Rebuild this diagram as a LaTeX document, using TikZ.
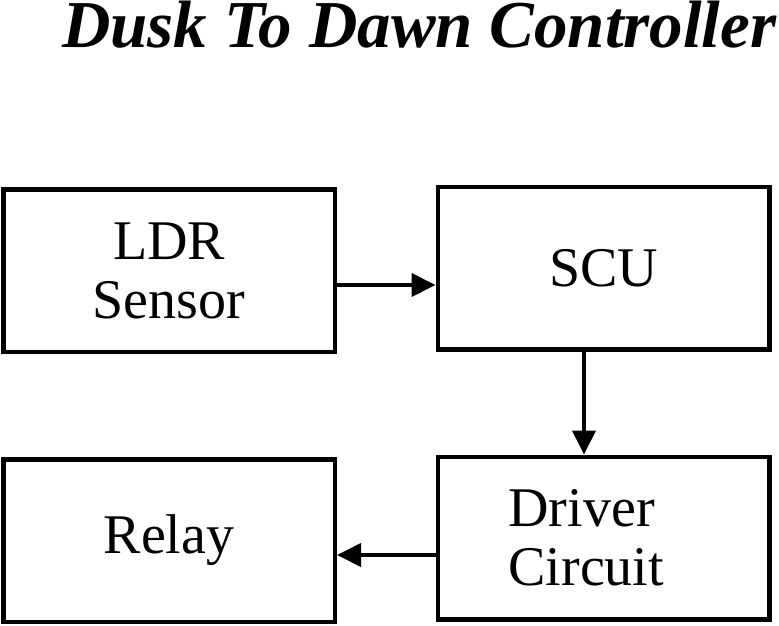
\documentclass[tikz,border=0pt]{standalone}
\usepackage{fontspec}
\setmainfont{Liberation Serif}
\usetikzlibrary{arrows.meta}

\tikzset{
	blockbox/.style={draw=black, line width=4.5pt, minimum width=331.5pt, minimum height=162.5pt, inner sep=0pt, align=center, font=\fontsize{56}{59}\selectfont},
	flowarrow/.style={-{Triangle[length=24pt,width=23pt]}, line width=4pt, draw=black},
}

\begin{document}
\begin{tikzpicture}[x=1pt,y=1pt,yscale=-1,xscale=1]
	\useasboundingbox (0,0) rectangle (779,626);

	%%TITLE---------------------------------------------
	\node (title) [anchor=base west, inner sep=0pt, font=\fontsize{67}{70}\selectfont\bfseries\itshape] at (62,48) {Dusk To Dawn Controller};

	%%BLOCKS---------------------------------------------
	%Top left
	\node (ldr) [blockbox] at (169,270.5) {LDR\\Sensor};
	%Top right
	\node (scu) [blockbox] at (603.5,268) {SCU};
	%Bottom right
	\node (driver) [blockbox, align=left, text width=190pt, inner xsep=70.75pt] at (603.5,538) {Driver\\Circuit};
	%Bottom left
	\node (relay) [blockbox] at (169,540.5) {Relay};

	%%ARROWS---------------------------------------------
	\coordinate (rowA) at (0,285);
	\coordinate (rowB) at (0,555);
	\coordinate (colA) at (584,0);

	\draw [flowarrow] (ldr.east |- rowA) -- (scu.west |- rowA);
	\draw [flowarrow] (scu.south -| colA) -- (driver.north -| colA);
	\draw [flowarrow] (driver.west |- rowB) -- (relay.east |- rowB);

\end{tikzpicture}
\end{document}
